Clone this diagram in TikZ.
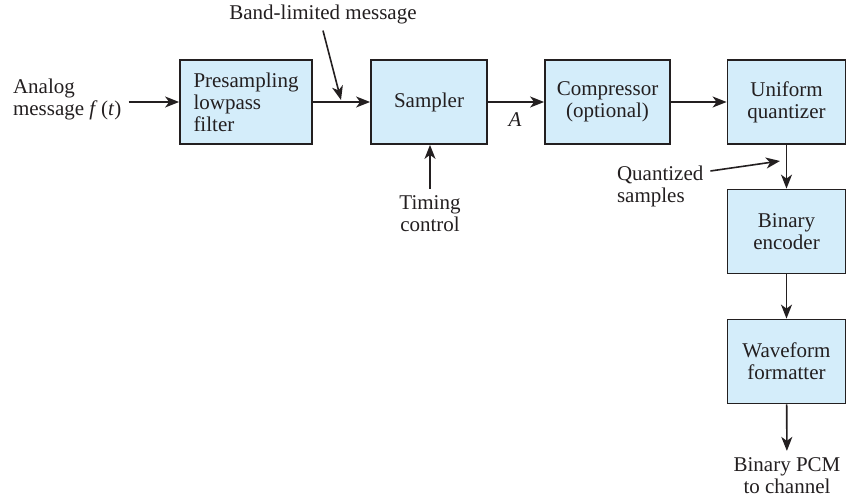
\documentclass[tikz,border=0pt]{standalone}
\usepackage{fontspec}
\setmainfont{Liberation Serif}
\usetikzlibrary{arrows.meta, calc}
\definecolor{boxblue}{RGB}{212,237,250}
\definecolor{ink}{RGB}{35,31,32}

\begin{document}
\begin{tikzpicture}[x=0.5pt, y=-0.5pt,
  every node/.style={font=\fontsize{10.5}{11}\selectfont, text=ink},
  block/.style={draw=ink, line width=0.9pt, fill=boxblue,
                minimum height=42pt, inner sep=2pt, align=center},
  flow/.style={draw=ink, line width=0.8pt,
               -{Stealth[length=7pt, width=5.5pt, inset=2pt]}}]
\useasboundingbox (0,0) rectangle (847,497);

% --- top row --------------------------------------------------------------
\node[block, minimum width=66pt, align=left] (presamp) at (246,102)
  {Presampling\\lowpass\\filter};
\node[block, minimum width=58pt] (sampler) at (429,102) {Sampler};
\node[block, minimum width=62.5pt] (compress) at (607.5,102)
  {Compressor\\(optional)};
\node[block, minimum width=59pt] (quantizer) at (786.5,102)
  {Uniform\\quantizer};

% --- right column ---------------------------------------------------------
\node[block, minimum width=59pt] (encoder) at (786.5,231.5)
  {Binary\\encoder};
\node[block, minimum width=59pt] (formatter) at (786.5,361.5)
  {Waveform\\formatter};

% --- labels ---------------------------------------------------------------
\node[align=left, anchor=west] (analog) at (6,99)
  {Analog\\message \textit{f}\,(\textit{t})};
\node (bandlbl) at (323,14) {Band-limited message};
\coordinate (bandtip) at (341,100);
\node (alabel) at (515,120) {\textit{A}};
\node[align=center] (timing) at (430,214) {Timing\\control};
\node[align=left, anchor=west] (quantlbl) at (610,186) {Quantized\\samples};
\coordinate (quanttip) at (780,161);
\node[align=center] (pcm) at (787,476) {Binary PCM\\to channel};

% --- connectors -----------------------------------------------------------
\draw[flow] (analog.east |- presamp.west) -- (presamp.west);
\draw[flow] (presamp) -- (sampler);
\draw[flow] (sampler) -- (compress);
\draw[flow] (compress) -- (quantizer);
\draw[flow] (quantizer) -- (encoder);
\draw[flow] (encoder) -- (formatter);
\draw[flow] (formatter) -- (pcm);
\draw[flow] (bandlbl.south) -- (bandtip);
\draw[flow] (timing.north) -- (timing.north |- sampler.south);
\draw[flow] ([yshift=7.5pt]quantlbl.east) -- (quanttip);

\end{tikzpicture}
\end{document}
